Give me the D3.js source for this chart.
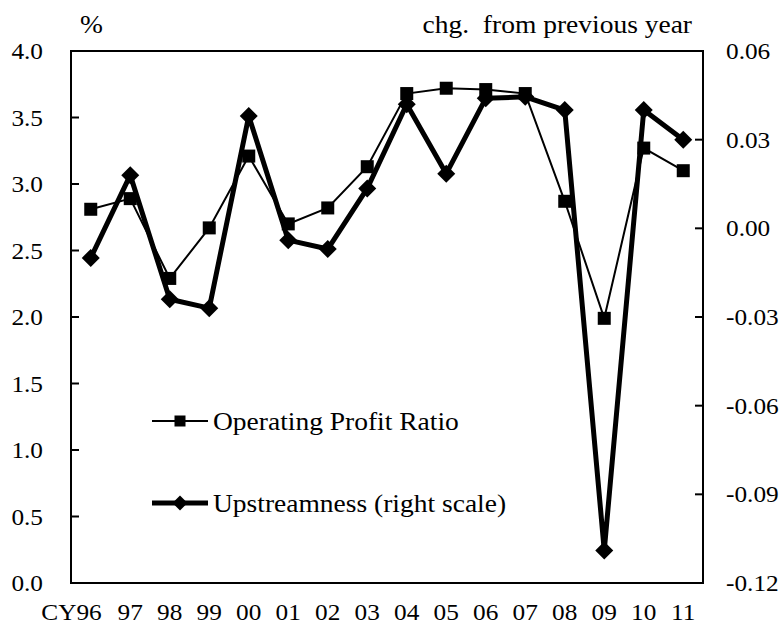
<!DOCTYPE html>
<html><head><meta charset="utf-8">
<script src="https://cdn.jsdelivr.net/npm/d3@7"></script>
<style>html,body{margin:0;padding:0;background:#fff;}svg{display:block;}text{font-family:"Liberation Serif","Times New Roman",serif;fill:#000;}</style>
</head><body><svg id="c" width="781" height="628"></svg>
<script>
const years = ["96","97","98","99","00","01","02","03","04","05","06","07","08","09","10","11"];
const profitRatio = [2.81,2.89,2.29,2.67,3.21,2.70,2.82,3.13,3.68,3.72,3.71,3.68,2.87,1.99,3.27,3.10];
const upstreamness = [-0.010,0.018,-0.024,-0.027,0.038,-0.004,-0.007,0.0135,0.042,0.0185,0.044,0.0445,0.040,-0.109,0.040,0.030];
const leftTicks = [0,0.5,1.0,1.5,2.0,2.5,3.0,3.5,4.0];
const rightTicks = [-0.12,-0.09,-0.06,-0.03,0.00,0.03,0.06];
const seriesNames = ["Operating Profit Ratio","Upstreamness (right scale)"];

const SX = 1.1;
const svg = d3.select("#c");
const m = {l:71, t:51, r:78, b:45};
const W = 781 - m.l - m.r, H = 628 - m.t - m.b;
const x = d3.scaleBand().domain(years).range([m.l, m.l+W]);
const yL = d3.scaleLinear().domain([0,4]).range([m.t+H, m.t]);
const yR = d3.scaleLinear().domain([-0.12,0.06]).range([m.t+H, m.t]);
const cx = d => x(d) + x.bandwidth()/2;

function txt(g, str, px, py, size, anchor){
  return g.append("text").attr("transform", `translate(${px},${py}) scale(${SX},1)`)
    .attr("text-anchor", anchor).style("font-size", size+"px").text(str);
}

// frame
svg.append("rect").attr("x", m.l).attr("y", m.t).attr("width", W).attr("height", H)
  .attr("fill","none").attr("stroke","#000").attr("stroke-width",2);

// left ticks
const gl = svg.append("g");
leftTicks.forEach(v=>{
  gl.append("line").attr("x1", m.l).attr("x2", m.l+8).attr("y1", yL(v)).attr("y2", yL(v)).attr("stroke","#000").attr("stroke-width",2);
  txt(gl, v.toFixed(1), m.l-28, yL(v)+8, 23, "end");
});
// right ticks
const gr = svg.append("g");
rightTicks.forEach(v=>{
  gr.append("line").attr("x1", m.l+W-8).attr("x2", m.l+W).attr("y1", yR(v)).attr("y2", yR(v)).attr("stroke","#000").attr("stroke-width",2);
  txt(gr, v.toFixed(2), m.l+W+23, yR(v)+8, 23, "start");
});
// x labels
const gx = svg.append("g");
years.forEach((yv,i)=>{
  if(i===0) txt(gx, "CY"+yv, cx(yv)+11, 620, 23, "end");
  else txt(gx, yv, cx(yv), 620, 23, "middle");
});
// headers
txt(svg, "%", 80, 33, 25, "start");
txt(svg, "chg.\u00a0 from previous year", 692, 33, 25, "end");

// series
const lineU = d3.line().x((d,i)=>cx(years[i])).y(d=>yR(d));
const lineP = d3.line().x((d,i)=>cx(years[i])).y(d=>yL(d));
const diamond = s => `M0,${-s}L${s},0L0,${s}L${-s},0Z`;

svg.append("path").attr("d", lineU(upstreamness)).attr("fill","none").attr("stroke","#000").attr("stroke-width",5).attr("stroke-linejoin","round");
svg.append("g").selectAll("path").data(upstreamness).join("path")
  .attr("transform",(d,i)=>`translate(${cx(years[i])},${yR(d)})`).attr("d", diamond(9)).attr("fill","#000");

svg.append("path").attr("d", lineP(profitRatio)).attr("fill","none").attr("stroke","#000").attr("stroke-width",2);
svg.append("g").selectAll("rect").data(profitRatio).join("rect")
  .attr("x",(d,i)=>cx(years[i])-6.5).attr("y",d=>yL(d)-6.5).attr("width",13).attr("height",13).attr("fill","#000");

// legend
const lg = svg.append("g");
lg.append("line").attr("x1",152).attr("x2",208).attr("y1",421).attr("y2",421).attr("stroke","#000").attr("stroke-width",2);
lg.append("rect").attr("x",180-5.5).attr("y",421-5.5).attr("width",11).attr("height",11).attr("fill","#000");
txt(lg, seriesNames[0], 213, 430, 25, "start");
lg.append("line").attr("x1",152).attr("x2",208).attr("y1",503).attr("y2",503).attr("stroke","#000").attr("stroke-width",5);
lg.append("path").attr("transform","translate(180,503)").attr("d", diamond(7.5)).attr("fill","#000");
txt(lg, seriesNames[1], 213, 512, 25, "start");
</script></body></html>
